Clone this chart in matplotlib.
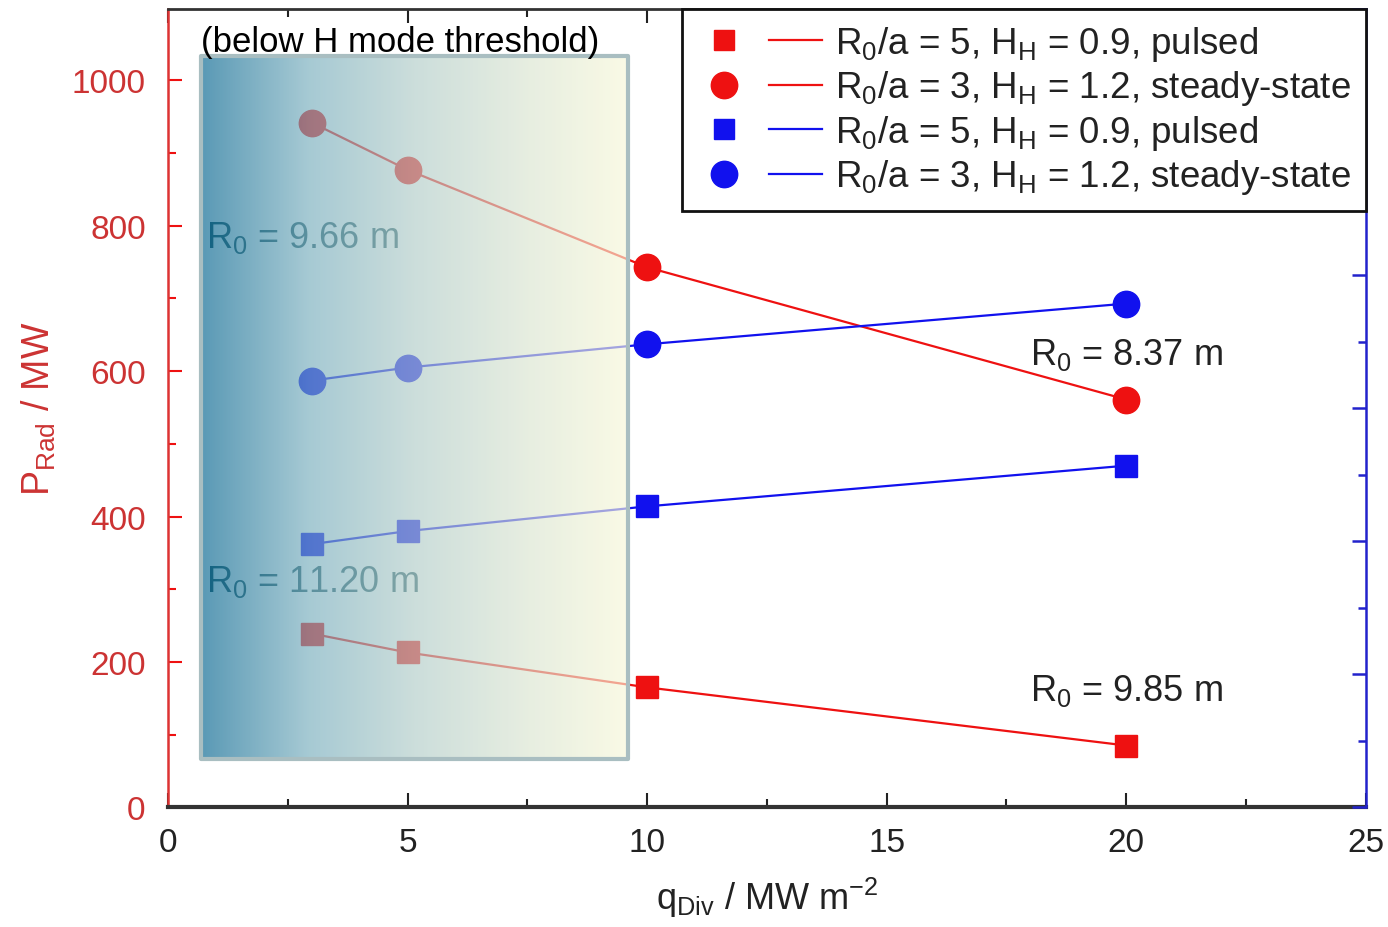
import numpy as np
import matplotlib
matplotlib.use("Agg")
import matplotlib.pyplot as plt
from matplotlib.lines import Line2D
from matplotlib.legend_handler import HandlerTuple
from matplotlib.colors import LinearSegmentedColormap
from matplotlib.ticker import MultipleLocator

plt.rcParams['font.family'] = ['Liberation Sans', 'DejaVu Sans']
plt.rcParams['mathtext.fontset'] = 'custom'
plt.rcParams['mathtext.rm'] = 'Liberation Sans'

# ---- data ----
q_div = [3, 5, 10, 20]
red_sq = [239, 213, 165, 85]      # R0/a=5, HH=0.9, pulsed
red_ci = [942, 877, 743, 561]     # R0/a=3, HH=1.2, steady-state
blue_sq = [362, 380, 414, 470]    # R0/a=5, HH=0.9, pulsed
blue_ci = [587, 605, 637, 693]    # R0/a=3, HH=1.2, steady-state
labels = [r'$\mathregular{R_0/a}$ = 5, $\mathregular{H_H}$ = 0.9, pulsed',
          r'$\mathregular{R_0/a}$ = 3, $\mathregular{H_H}$ = 1.2, steady-state',
          r'$\mathregular{R_0/a}$ = 5, $\mathregular{H_H}$ = 0.9, pulsed',
          r'$\mathregular{R_0/a}$ = 3, $\mathregular{H_H}$ = 1.2, steady-state']
annotations = [(18.0, 623, r'$\mathregular{R_0}$ = 8.37 m'),
               (18.0, 162, r'$\mathregular{R_0}$ = 9.85 m'),
               (0.8, 784, r'$\mathregular{R_0}$ = 9.66 m'),
               (0.8, 311, r'$\mathregular{R_0}$ = 11.20 m')]
box_x = (0.7, 9.6)
box_y = (66, 1033)

RED = '#ee1111'
BLUE = '#1111ee'
TXT = '#222222'

fig = plt.figure(figsize=(13.88, 9.28), dpi=100)
ax = fig.add_axes([0.121, 0.129, 0.863, 0.860])
ax.set_xlim(0, 25)
ax.set_ylim(0, 1098)

lw = 1.6
ax.plot(q_div, red_sq, '-s', color=RED, lw=lw, ms=16, zorder=3)
ax.plot(q_div, red_ci, '-o', color=RED, lw=lw, ms=19, zorder=3)
ax.plot(q_div, blue_sq, '-s', color=BLUE, lw=lw, ms=16, zorder=3)
ax.plot(q_div, blue_ci, '-o', color=BLUE, lw=lw, ms=19, zorder=3)

for (x, y, t) in annotations:
    col = TXT if x > 5 else '#2d5f6a'
    ax.text(x, y, t, fontsize=26, color=col, va='center', ha='left', zorder=2)

# gradient overlay box
a = 0.65
stops = [(0.0, (0.30, 0.60, 0.71)), (0.25, (0.65, 0.79, 0.83)),
         (0.5, (0.80, 0.87, 0.86)), (0.75, (0.90, 0.93, 0.88)), (1.0, (0.98, 0.98, 0.90))]
adj = [(p, tuple(np.clip((np.array(c) - (1 - a)) / a, 0, 1))) for p, c in stops]
cmap = LinearSegmentedColormap.from_list('g', adj)
grad = np.linspace(0, 1, 256).reshape(1, -1)
ax.imshow(grad, extent=[box_x[0], box_x[1], box_y[0], box_y[1]], aspect='auto',
          cmap=cmap, alpha=a, zorder=5, interpolation='bilinear')
ax.add_patch(plt.Rectangle((box_x[0], box_y[0]), box_x[1] - box_x[0], box_y[1] - box_y[0],
                           fill=False, ec='#a9bec1', lw=3, zorder=6, joinstyle='round'))
ax.text((box_x[0] + box_x[1]) / 2 - 0.3, 1053, '(below H mode threshold)', fontsize=25,
        color='black', ha='center', va='center', zorder=7)

# axes styling
ax.xaxis.set_major_locator(MultipleLocator(5))
ax.xaxis.set_minor_locator(MultipleLocator(2.5))
ax.yaxis.set_major_locator(MultipleLocator(200))
ax.yaxis.set_minor_locator(MultipleLocator(100))
ax.tick_params(axis='x', which='both', direction='in', top=True, color='#222222',
               labelsize=24, labelcolor='#222222', pad=14)
ax.tick_params(axis='x', which='major', length=10, width=1.5)
ax.tick_params(axis='x', which='minor', length=6, width=1.5)
ax.tick_params(axis='y', which='both', direction='in', color=RED, labelcolor='#cc3333',
               labelsize=24, right=False, pad=16)
ax.tick_params(axis='y', which='major', length=10, width=1.5)
ax.tick_params(axis='y', which='minor', length=6, width=1.5)
ax.spines['left'].set_color('#dd3333')
ax.spines['left'].set_linewidth(1.8)
ax.spines['bottom'].set_color('#333333')
ax.spines['bottom'].set_linewidth(3)
ax.spines['top'].set_color('#333333')
ax.spines['top'].set_linewidth(2)
ax.spines['right'].set_visible(False)

ax2 = ax.twinx()
ax2.set_ylim(0, 12)
ax2.yaxis.set_major_locator(MultipleLocator(2))
ax2.yaxis.set_minor_locator(MultipleLocator(1))
ax2.tick_params(axis='y', which='both', direction='in', color='#2222cc', labelright=False)
ax2.tick_params(axis='y', which='major', length=10, width=1.8)
ax2.tick_params(axis='y', which='minor', length=6, width=1.8)
for s in ['left', 'top', 'bottom']:
    ax2.spines[s].set_visible(False)
ax2.spines['right'].set_color('#2222cc')
ax2.spines['right'].set_linewidth(1.8)

ax.set_ylabel(r'$\mathregular{P_{Rad}}$ / MW', fontsize=27, color='#cc3333', labelpad=10)
ax.set_xlabel(r'$\mathregular{q_{Div}}$ / MW m$\mathregular{^{-2}}$', fontsize=26,
              color='#222222', labelpad=12)

def h(marker, color, ms):
    return (Line2D([], [], ls='none', marker=marker, color=color, ms=ms),
            Line2D([], [], ls='-', color=color, lw=lw))
handles = [h('s', RED, 15), h('o', RED, 19), h('s', BLUE, 15), h('o', BLUE, 19)]
leg = ax2.legend(handles, labels, handler_map={tuple: HandlerTuple(ndivide=None, pad=0.5)},
                 loc='upper right', bbox_to_anchor=(1.0, 1.0), fontsize=26.5,
                 frameon=True, fancybox=False, edgecolor='#111111', framealpha=1,
                 handlelength=3.4, handletextpad=0.35, labelspacing=0.15,
                 borderpad=0.4, borderaxespad=0.0)
leg.get_frame().set_linewidth(2)
for t in leg.get_texts():
    t.set_color(TXT)
leg.set_zorder(10)

fig.savefig('out.png', dpi=100)
